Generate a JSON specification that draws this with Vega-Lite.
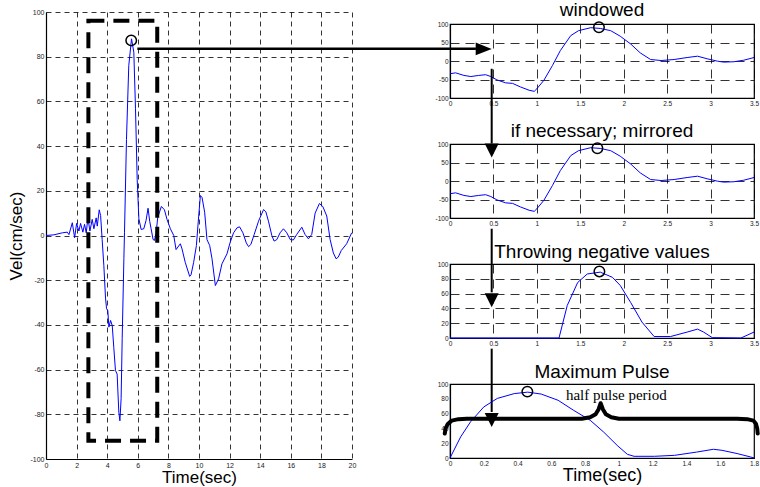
{
  "$schema": "https://vega.github.io/schema/vega-lite/v6.json",
  "padding": {"left": 7, "top": 0, "right": 0, "bottom": 0},
  "background": "white",
  "config": {
    "font": "Liberation Sans",
    "view": {"stroke": null},
    "axis": {
      "labelFont": "Liberation Sans", "labelFontSize": 6.5, "labelColor": "#222",
      "domainColor": "black", "domainWidth": 1.2,
      "ticks": false, "grid": true, "tickCount": 30,
      "gridColor": "black", "gridOpacity": 1, "gridWidth": 0.8, "gridDash": [9, 6],
      "labelFlush": false, "labelOverlap": false, "labelBound": false, "labelPadding": 2,
      "labelExpr": "datum.value < 0 ? '-' + abs(datum.value) : '' + datum.value",
      "titleFont": "Liberation Sans", "titleFontWeight": "normal", "titleColor": "black"
    },
    "title": {"font": "Liberation Sans", "fontSize": 19, "fontWeight": "normal", "color": "black", "baseline": "alphabetic", "offset": -1}
  },
  "datasets": {
    "main": [
      {"t":0,"v":0},{"t":0.52,"v":0.3},{"t":1.07,"v":1.2},{"t":1.39,"v":1.5},{"t":1.5,"v":0.4},{"t":1.72,"v":5.7},{"t":1.87,"v":-1},{"t":2.0,"v":5.4},{"t":2.15,"v":2},{"t":2.26,"v":5.4},{"t":2.41,"v":1.5},{"t":2.52,"v":5},{"t":2.63,"v":1.2},{"t":2.74,"v":7.9},{"t":2.87,"v":2},{"t":3.02,"v":7.2},{"t":3.13,"v":3},{"t":3.28,"v":7.9},{"t":3.35,"v":4.2},{"t":3.48,"v":11.5},{"t":3.57,"v":8.9},{"t":3.67,"v":-1.8},{"t":3.78,"v":-13.4},{"t":3.89,"v":-28},{"t":3.96,"v":-32.8},{"t":4.04,"v":-33.6},{"t":4.11,"v":-41},{"t":4.22,"v":-38},{"t":4.33,"v":-40.3},{"t":4.43,"v":-50},{"t":4.54,"v":-60.4},{"t":4.65,"v":-62},{"t":4.7,"v":-70},{"t":4.76,"v":-79},{"t":4.83,"v":-82.9},{"t":4.91,"v":-73},{"t":4.98,"v":-46},{"t":5.09,"v":-10.4},{"t":5.13,"v":1.2},{"t":5.26,"v":43},{"t":5.41,"v":76},{"t":5.59,"v":88},{"t":5.74,"v":82},{"t":5.85,"v":56.7},{"t":5.96,"v":25},{"t":6.07,"v":7.5},{"t":6.22,"v":2.7},{"t":6.39,"v":3},{"t":6.54,"v":6.7},{"t":6.67,"v":12.2},{"t":6.78,"v":6.3},{"t":6.87,"v":3},{"t":7.0,"v":-1.8},{"t":7.09,"v":-2.2},{"t":7.2,"v":1.2},{"t":7.3,"v":8},{"t":7.54,"v":13},{"t":7.74,"v":11.5},{"t":7.91,"v":7.2},{"t":8.13,"v":3},{"t":8.35,"v":0},{"t":8.5,"v":-6.3},{"t":8.78,"v":-3.7},{"t":8.89,"v":-6},{"t":9.1,"v":-12},{"t":9.39,"v":-18.3},{"t":9.48,"v":-17.6},{"t":9.65,"v":-12},{"t":9.83,"v":-4.5},{"t":9.98,"v":8.7},{"t":10.09,"v":17.9},{"t":10.2,"v":17},{"t":10.37,"v":10.4},{"t":10.52,"v":-1.8},{"t":10.7,"v":-4.5},{"t":10.85,"v":-10.4},{"t":11.07,"v":-22.4},{"t":11.28,"v":-19.4},{"t":11.5,"v":-12.7},{"t":11.83,"v":-8.2},{"t":12.04,"v":-3},{"t":12.26,"v":1.2},{"t":12.48,"v":3.4},{"t":12.65,"v":3.9},{"t":12.87,"v":1.2},{"t":13.09,"v":-3.3},{"t":13.24,"v":-5},{"t":13.39,"v":-4},{"t":13.61,"v":0.5},{"t":13.89,"v":6.4},{"t":14.22,"v":11.6},{"t":14.37,"v":10.6},{"t":14.54,"v":6.4},{"t":14.76,"v":0},{"t":14.91,"v":-2.5},{"t":15.09,"v":-1.8},{"t":15.3,"v":1.2},{"t":15.52,"v":3},{"t":15.74,"v":1.2},{"t":15.96,"v":-1.8},{"t":16.17,"v":-2},{"t":16.39,"v":0.5},{"t":16.72,"v":3.7},{"t":16.93,"v":0.5},{"t":17.15,"v":-1.5},{"t":17.37,"v":0.5},{"t":17.59,"v":10},{"t":17.87,"v":14.3},{"t":18.09,"v":13},{"t":18.35,"v":8.7},{"t":18.57,"v":-1.8},{"t":18.78,"v":-7.8},{"t":18.96,"v":-10.4},{"t":19.1,"v":-9.7},{"t":19.3,"v":-6.7},{"t":19.65,"v":-3.7},{"t":19.98,"v":1.2}
    ],
    "win": [
      {"t":0,"v":-34.5},{"t":0.065,"v":-32},{"t":0.16,"v":-39},{"t":0.24,"v":-42},{"t":0.33,"v":-39},{"t":0.41,"v":-37},{"t":0.47,"v":-42},{"t":0.54,"v":-51},{"t":0.64,"v":-59},{"t":0.72,"v":-60.5},{"t":0.81,"v":-70},{"t":0.91,"v":-79},{"t":0.97,"v":-82},{"t":1.0,"v":-75},{"t":1.08,"v":-52.5},{"t":1.18,"v":-12},{"t":1.27,"v":28},{"t":1.39,"v":68.6},{"t":1.48,"v":82},{"t":1.62,"v":90},{"t":1.73,"v":88},{"t":1.85,"v":82},{"t":1.96,"v":67},{"t":2.08,"v":46},{"t":2.19,"v":22},{"t":2.31,"v":4},{"t":2.43,"v":1.3},{"t":2.58,"v":4},{"t":2.73,"v":9.4},{"t":2.85,"v":13},{"t":2.96,"v":6},{"t":3.08,"v":-0.5},{"t":3.15,"v":-3},{"t":3.27,"v":-2},{"t":3.38,"v":2},{"t":3.5,"v":9.4}
    ],
    "pos": [
      {"t":0,"v":0},{"t":1.255,"v":0},{"t":1.35,"v":44},{"t":1.47,"v":75},{"t":1.58,"v":86.5},{"t":1.73,"v":89},{"t":1.87,"v":82},{"t":1.96,"v":71},{"t":2.08,"v":48},{"t":2.21,"v":21.5},{"t":2.35,"v":2},{"t":2.54,"v":2},{"t":2.73,"v":8},{"t":2.85,"v":12},{"t":2.92,"v":8},{"t":3.02,"v":0.5},{"t":3.35,"v":0},{"t":3.5,"v":8}
    ],
    "pulse": [
      {"t":0,"v":0},{"t":0.063,"v":28.5},{"t":0.122,"v":49},{"t":0.2,"v":69},{"t":0.28,"v":80.5},{"t":0.38,"v":87},{"t":0.46,"v":89},{"t":0.54,"v":86.4},{"t":0.64,"v":78},{"t":0.73,"v":64.7},{"t":0.83,"v":51},{"t":0.91,"v":35},{"t":0.99,"v":17},{"t":1.05,"v":5},{"t":1.09,"v":2.3},{"t":1.21,"v":2.3},{"t":1.33,"v":3.6},{"t":1.46,"v":8},{"t":1.56,"v":11.8},{"t":1.61,"v":10.4},{"t":1.7,"v":6},{"t":1.78,"v":1.4},{"t":1.8,"v":0}
    ],
    "brace": [
      {"i":1,"t":-0.031,"v":33},{"i":2,"t":-0.026,"v":40},{"i":3,"t":-0.013,"v":46},{"i":4,"t":0.01,"v":50.5},{"i":5,"t":0.05,"v":52.5},{"i":6,"t":0.1,"v":53},{"i":7,"t":0.78,"v":53},{"i":8,"t":0.83,"v":55},{"i":9,"t":0.862,"v":59},{"i":10,"t":0.88,"v":66},{"i":11,"t":0.892,"v":74},{"i":12,"t":0.905,"v":66},{"i":13,"t":0.923,"v":59},{"i":14,"t":0.955,"v":55},{"i":15,"t":1.0,"v":53},{"i":16,"t":1.7,"v":53},{"i":17,"t":1.76,"v":52.5},{"i":18,"t":1.797,"v":50.5},{"i":19,"t":1.812,"v":46},{"i":20,"t":1.819,"v":40},{"i":21,"t":1.822,"v":33}
    ]
  },
  "bounds": "flush",
  "spacing": 98,
  "hconcat": [
    {
      "width": 306, "height": 447,
      "layer": [
        {
          "data": {"name": "main"},
          "mark": {"type": "line", "color": "#0000ff", "strokeWidth": 1},
          "encoding": {
            "x": {"field": "t", "type": "quantitative", "scale": {"domain": [0, 20], "nice": false, "zero": false},
                  "axis": {"values": [0,2,4,6,8,10,12,14,16,18,20], "tickCount": 30, "grid": true, "labelOverlap": false, "title": "Time(sec)", "titleFontSize": 17, "titlePadding": 1, "labelFontSize": 7, "gridDash": [5, 4]}},
            "y": {"field": "v", "type": "quantitative", "scale": {"domain": [-100, 100], "nice": false, "zero": false},
                  "axis": {"values": [-100,-80,-60,-40,-20,0,20,40,60,80,100], "tickCount": 30, "grid": true, "labelOverlap": false, "title": "Vel(cm/sec)", "titleFontSize": 17, "titlePadding": 4, "labelFontSize": 7, "gridDash": [5, 4]}}
          }
        },
        {
          "data": {"values": [{"t": 2.77, "t2": 7.27, "v": -91.8, "v2": 96.1}]},
          "mark": {"type": "rect", "fillOpacity": 0, "stroke": "black", "strokeWidth": 4, "strokeDash": [16, 9]},
          "encoding": {
            "x": {"field": "t", "type": "quantitative"},
            "x2": {"field": "t2"},
            "y": {"field": "v", "type": "quantitative"},
            "y2": {"field": "v2"}
          }
        },
        {
          "data": {"values": [{"t": 5.57, "v": 87.3}]},
          "mark": {"type": "point", "shape": "circle", "filled": false, "stroke": "black", "strokeWidth": 1.5, "size": 110, "opacity": 1},
          "encoding": {
            "x": {"field": "t", "type": "quantitative"},
            "y": {"field": "v", "type": "quantitative"}
          }
        },
        {
          "data": {"values": [{"t": 5.97, "t2": 28.1, "v": 83.6}]},
          "mark": {"type": "rule", "color": "black", "strokeWidth": 2.5},
          "encoding": {
            "x": {"field": "t", "type": "quantitative"},
            "x2": {"field": "t2"},
            "y": {"field": "v", "type": "quantitative"}
          }
        }
      ]
    },
    {
      "bounds": "flush",
      "spacing": 0,
      "vconcat": [
        {"width": 304, "height": 12, "data": {"values": [{}]}, "mark": {"type": "text", "text": ""}, "encoding": {}},
        {
          "bounds": "flush",
          "spacing": 46,
          "vconcat": [
            {
              "width": 304, "height": 74,
              "title": {"text": "windowed"},
              "view": {"stroke": "black", "strokeWidth": 1.2},
              "layer": [
                {
                  "data": {"name": "win"},
                  "mark": {"type": "line", "color": "#0000ff", "strokeWidth": 1},
                  "encoding": {
                    "x": {"field": "t", "type": "quantitative", "scale": {"domain": [0, 3.5], "nice": false, "zero": false},
                          "axis": {"values": [0,0.5,1,1.5,2,2.5,3,3.5], "tickCount": 30, "grid": true, "labelOverlap": false, "title": null}},
                    "y": {"field": "v", "type": "quantitative", "scale": {"domain": [-100, 100], "nice": false, "zero": false},
                          "axis": {"values": [-100,-50,0,50,100], "tickCount": 30, "grid": true, "labelOverlap": false, "title": null}}
                  }
                },
                {
                  "data": {"values": [{"t": 1.715, "v": 91}]},
                  "mark": {"type": "point", "shape": "circle", "filled": false, "stroke": "black", "strokeWidth": 1.5, "size": 110, "opacity": 1},
                  "encoding": {
                    "x": {"field": "t", "type": "quantitative"},
                    "y": {"field": "v", "type": "quantitative"}
                  }
                },
                {
                  "data": {"values": [{"t": 0.388, "v": 32.7}]},
                  "mark": {"type": "point", "shape": "M -1 -0.8 L 1 0 L -1 0.8 Z", "filled": true, "color": "black", "size": 256, "opacity": 1},
                  "encoding": {
                    "x": {"field": "t", "type": "quantitative"},
                    "y": {"field": "v", "type": "quantitative"}
                  }
                },
                {
                  "data": {"values": [{"t": 0.48, "v": -21, "v2": -223}]},
                  "mark": {"type": "rule", "color": "black", "strokeWidth": 2},
                  "encoding": {
                    "x": {"field": "t", "type": "quantitative"},
                    "y": {"field": "v", "type": "quantitative"},
                    "y2": {"field": "v2"}
                  }
                }
              ]
            },
            {
              "width": 304, "height": 74,
              "title": {"text": "if necessary; mirrored"},
              "view": {"stroke": "black", "strokeWidth": 1.2},
              "layer": [
                {
                  "data": {"name": "win"},
                  "mark": {"type": "line", "color": "#0000ff", "strokeWidth": 1},
                  "encoding": {
                    "x": {"field": "t", "type": "quantitative", "scale": {"domain": [0, 3.5], "nice": false, "zero": false},
                          "axis": {"values": [0,0.5,1,1.5,2,2.5,3,3.5], "tickCount": 30, "grid": true, "labelOverlap": false, "title": null}},
                    "y": {"field": "v", "type": "quantitative", "scale": {"domain": [-100, 100], "nice": false, "zero": false},
                          "axis": {"values": [-100,-50,0,50,100], "tickCount": 30, "grid": true, "labelOverlap": false, "title": null}}
                  }
                },
                {
                  "data": {"values": [{"t": 1.697, "v": 88.4}]},
                  "mark": {"type": "point", "shape": "circle", "filled": false, "stroke": "black", "strokeWidth": 1.5, "size": 110, "opacity": 1},
                  "encoding": {
                    "x": {"field": "t", "type": "quantitative"},
                    "y": {"field": "v", "type": "quantitative"}
                  }
                },
                {
                  "data": {"values": [{"t": 0.48, "v": 82.5}]},
                  "mark": {"type": "point", "shape": "M -1 -1 L 1 -1 L 0 1 Z", "filled": true, "color": "black", "size": 196, "opacity": 1},
                  "encoding": {
                    "x": {"field": "t", "type": "quantitative"},
                    "y": {"field": "v", "type": "quantitative"}
                  }
                },
                {
                  "data": {"values": [{"t": 0.48, "v": -129, "v2": -301}]},
                  "mark": {"type": "rule", "color": "black", "strokeWidth": 2},
                  "encoding": {
                    "x": {"field": "t", "type": "quantitative"},
                    "y": {"field": "v", "type": "quantitative"},
                    "y2": {"field": "v2"}
                  }
                }
              ]
            },
            {
              "width": 304, "height": 74,
              "title": {"text": "Throwing negative values"},
              "view": {"stroke": "black", "strokeWidth": 1.2},
              "layer": [
                {
                  "data": {"name": "pos"},
                  "mark": {"type": "line", "color": "#0000ff", "strokeWidth": 1},
                  "encoding": {
                    "x": {"field": "t", "type": "quantitative", "scale": {"domain": [0, 3.5], "nice": false, "zero": false},
                          "axis": {"values": [0,0.5,1,1.5,2,2.5,3,3.5], "tickCount": 30, "grid": true, "labelOverlap": false, "title": null}},
                    "y": {"field": "v", "type": "quantitative", "scale": {"domain": [0, 100], "nice": false, "zero": false},
                          "axis": {"values": [0,20,40,60,80,100], "tickCount": 30, "grid": true, "labelOverlap": false, "title": null}}
                  }
                },
                {
                  "data": {"values": [{"t": 1.72, "v": 90}]},
                  "mark": {"type": "point", "shape": "circle", "filled": false, "stroke": "black", "strokeWidth": 1.5, "size": 110, "opacity": 1},
                  "encoding": {
                    "x": {"field": "t", "type": "quantitative"},
                    "y": {"field": "v", "type": "quantitative"}
                  }
                },
                {
                  "data": {"values": [{"t": 0.48, "v": 51}]},
                  "mark": {"type": "point", "shape": "M -1 -1 L 1 -1 L 0 1 Z", "filled": true, "color": "black", "size": 196, "opacity": 1},
                  "encoding": {
                    "x": {"field": "t", "type": "quantitative"},
                    "y": {"field": "v", "type": "quantitative"}
                  }
                },
                {
                  "data": {"values": [{"t": 0.48, "v": -14.4, "v2": -100}]},
                  "mark": {"type": "rule", "color": "black", "strokeWidth": 2},
                  "encoding": {
                    "x": {"field": "t", "type": "quantitative"},
                    "y": {"field": "v", "type": "quantitative"},
                    "y2": {"field": "v2"}
                  }
                }
              ]
            },
            {
              "width": 304, "height": 74,
              "title": {"text": "Maximum Pulse"},
              "view": {"stroke": "black", "strokeWidth": 1.2},
              "layer": [
                {
                  "data": {"name": "pulse"},
                  "mark": {"type": "line", "color": "#0000ff", "strokeWidth": 1},
                  "encoding": {
                    "x": {"field": "t", "type": "quantitative", "scale": {"domain": [0, 1.8], "nice": false, "zero": false},
                          "axis": {"values": [0,0.2,0.4,0.6,0.8,1,1.2,1.4,1.6,1.8], "tickCount": 30, "labelOverlap": false, "title": "Time(sec)", "titleFontSize": 18, "titlePadding": 0, "grid": false}},
                    "y": {"field": "v", "type": "quantitative", "scale": {"domain": [0, 100], "nice": false, "zero": false},
                          "axis": {"values": [0,20,40,60,80,100], "tickCount": 30, "labelOverlap": false, "title": null, "grid": false}}
                  }
                },
                {
                  "data": {"name": "brace"},
                  "mark": {"type": "line", "color": "black", "strokeWidth": 4, "strokeCap": "round", "strokeJoin": "round", "interpolate": "linear"},
                  "encoding": {
                    "x": {"field": "t", "type": "quantitative"},
                    "y": {"field": "v", "type": "quantitative"},
                    "order": {"field": "i", "type": "quantitative"}
                  }
                },
                {
                  "data": {"values": [{"t": 0.458, "v": 89.7}]},
                  "mark": {"type": "point", "shape": "circle", "filled": false, "stroke": "black", "strokeWidth": 1.5, "size": 110, "opacity": 1},
                  "encoding": {
                    "x": {"field": "t", "type": "quantitative"},
                    "y": {"field": "v", "type": "quantitative"}
                  }
                },
                {
                  "data": {"values": [{"t": 0.247, "v": 51.4}]},
                  "mark": {"type": "point", "shape": "M -1 -1 L 1 -1 L 0 1 Z", "filled": true, "color": "black", "size": 196, "opacity": 1},
                  "encoding": {
                    "x": {"field": "t", "type": "quantitative"},
                    "y": {"field": "v", "type": "quantitative"}
                  }
                },
                {
                  "data": {"values": [{"t": 0.985, "v": 78, "label": "half pulse period"}]},
                  "mark": {"type": "text", "font": "Liberation Serif", "fontSize": 15, "align": "center", "baseline": "alphabetic", "color": "black"},
                  "encoding": {
                    "x": {"field": "t", "type": "quantitative"},
                    "y": {"field": "v", "type": "quantitative"},
                    "text": {"field": "label"}
                  }
                }
              ]
            }
          ]
        }
      ]
    }
  ]
}
